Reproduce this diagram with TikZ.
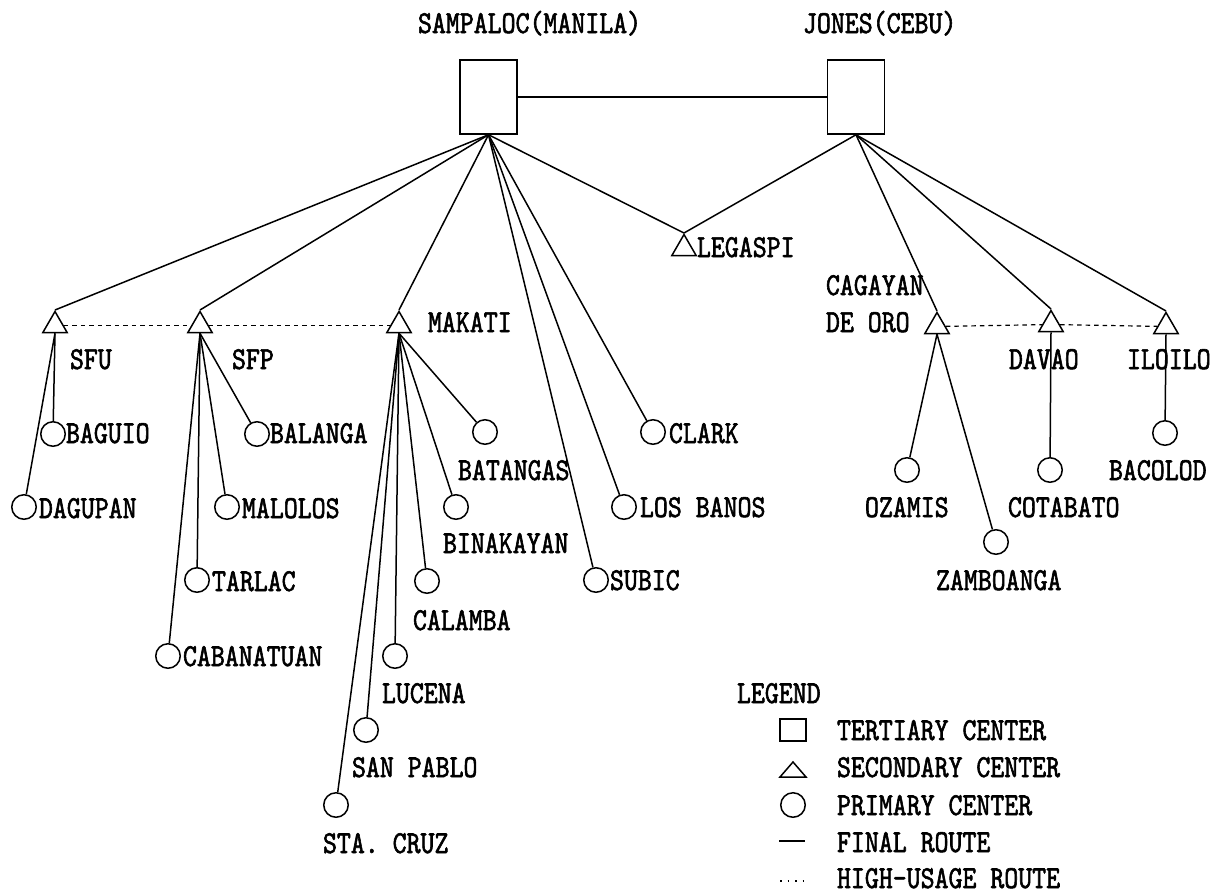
\documentclass[tikz,border=0pt]{standalone}
\usepackage{fontspec}
\newfontfamily\lblfont[FakeStretch=0.83,FakeBold=1.8]{lmmono10-regular.otf}
\usetikzlibrary{shapes.geometric}
\begin{document}
\begin{tikzpicture}[x=1pt,y=-1pt,
  lbl/.style={inner sep=0pt, outer sep=0pt, anchor=base west, font=\lblfont\fontsize{32pt}{37pt}\selectfont},
  tert/.style={draw, line width=1.5pt, rectangle, minimum width=57pt, minimum height=74pt, inner sep=0pt},
  sec/.style={draw, line width=1.5pt, regular polygon, regular polygon sides=3, minimum size=28pt, inner sep=0pt, anchor=north},
  prim/.style={draw, line width=1.5pt, circle, minimum size=24.5pt, inner sep=0pt},
  fr/.style={line width=1.5pt},
  hu/.style={line width=1.2pt, dash pattern=on 4.5pt off 4pt}
]
\useasboundingbox (0,0) rectangle (1216,895);

% tertiary centers
\node[tert] (samp) at (488.5,97) {};
\node[tert] (jones) at (856,97) {};
\node[lbl] (sampl) at (418,33) {SAMPALOC(MANILA)};
\node[lbl] (jonesl) at (803,33) {JONES(CEBU)};
\draw[fr] (samp) -- (jones);

% secondary centers
\node[sec] (sfu) at (55,310) {};
\node[sec] (sfp) at (200,310) {};
\node[sec] (mak) at (399,310) {};
\node[sec] (leg) at (684,233) {};
\node[sec] (cag) at (937,311) {};
\node[sec] (dav) at (1051,309) {};
\node[sec] (ilo) at (1166,311) {};
\node[lbl] (sfut) at (70,369) {SFU};
\node[lbl] (sfpt) at (232,369) {SFP};
\node[lbl] (makt) at (428,332) {MAKATI};
\node[lbl] (legt) at (697,257) {LEGASPI};
\node[lbl] (cagt1) at (826,295) {CAGAYAN};
\node[lbl] (cagt2) at (826,332) {DE ORO};
\node[lbl] (davt) at (1009,369) {DAVAO};
\node[lbl] (ilot) at (1127,369) {ILOILO};

% primary centers
\node[prim] (bag) at (53,434) {};
\node[prim] (dag) at (24,507) {};
\node[prim] (bal) at (257,434) {};
\node[prim] (mal) at (227,507) {};
\node[prim] (tar) at (197,580) {};
\node[prim] (cab) at (168,656) {};
\node[prim] (bat) at (485,432) {};
\node[prim] (bin) at (456,507) {};
\node[prim] (cal) at (427,581) {};
\node[prim] (luc) at (395,656) {};
\node[prim] (sp) at (366,730) {};
\node[prim] (sc) at (336,805) {};
\node[prim] (cla) at (653,432) {};
\node[prim] (lb) at (624,507) {};
\node[prim] (sub) at (596,580) {};
\node[prim] (oza) at (907,470) {};
\node[prim] (zam) at (996,542) {};
\node[prim] (cot) at (1050,470) {};
\node[prim] (bac) at (1165,433) {};

\node[lbl] (bagt) at (66,443) {BAGUIO};
\node[lbl] (dagt) at (39,518) {DAGUPAN};
\node[lbl] (balt) at (270,443) {BALANGA};
\node[lbl] (malt) at (242,518) {MALOLOS};
\node[lbl] (tart) at (212,591) {TARLAC};
\node[lbl] (cabt) at (183,666) {CABANATUAN};
\node[lbl] (batt) at (458,480) {BATANGAS};
\node[lbl] (bint) at (443,553) {BINAKAYAN};
\node[lbl] (calt) at (413,630) {CALAMBA};
\node[lbl] (luct) at (382,703) {LUCENA};
\node[lbl] (spt) at (352,777) {SAN PABLO};
\node[lbl] (sct) at (323,853) {STA. CRUZ};
\node[lbl] (clat) at (669,443) {CLARK};
\node[lbl] (lbt) at (640,517) {LOS BANOS};
\node[lbl] (subt) at (610,590) {SUBIC};
\node[lbl] (ozat) at (865,517) {OZAMIS};
\node[lbl] (zamt) at (936,590) {ZAMBOANGA};
\node[lbl] (cott) at (1008,517) {COTABATO};
\node[lbl] (bact) at (1109,480) {BACOLOD};

% final routes from tertiary centers
\foreach \t in {sfu,sfp,mak,leg} \draw[fr] (samp.south) -- (\t.north);
\foreach \t in {cla,lb,sub} \draw[fr] (samp.south) -- (\t);
\foreach \t in {leg,cag,dav,ilo} \draw[fr] (jones.south) -- (\t.north);

% final routes from secondary centers
\foreach \t in {bag,dag} \draw[fr] (sfu.south) -- (\t);
\foreach \t in {bal,mal,tar,cab} \draw[fr] (sfp.south) -- (\t);
\foreach \t in {bat,bin,cal,luc,sp,sc} \draw[fr] (mak.south) -- (\t);
\foreach \t in {oza,zam} \draw[fr] (cag.south) -- (\t);
\draw[fr] (dav.south) -- (cot);
\draw[fr] (ilo.south) -- (bac);

% high-usage routes
\draw[hu] (sfu) -- (sfp);
\draw[hu] (sfp) -- (mak);
\draw[hu] (cag) -- (dav);
\draw[hu] (dav) -- (ilo);

% legend
\node[lbl] (legend) at (737,703) {LEGEND};
\node[draw, line width=1.5pt, minimum width=26pt, minimum height=22pt, inner sep=0pt] (lsq) at (793,730) {};
\draw[line width=1.5pt] (780,777) -- (806,777) -- (793,762) -- cycle;
\node[prim] (lci) at (793,805) {};
\draw[fr] (779,841) -- (805,841);
\draw[line width=1.5pt, dash pattern=on 1.5pt off 6pt] (780,881) -- (803,881);
\node[lbl] (l1) at (837,740) {TERTIARY CENTER};
\node[lbl] (l2) at (837,777) {SECONDARY CENTER};
\node[lbl] (l3) at (837,815) {PRIMARY CENTER};
\node[lbl] (l4) at (837,852) {FINAL ROUTE};
\node[lbl] (l5) at (837,888) {HIGH-USAGE ROUTE};
\end{tikzpicture}
\end{document}
